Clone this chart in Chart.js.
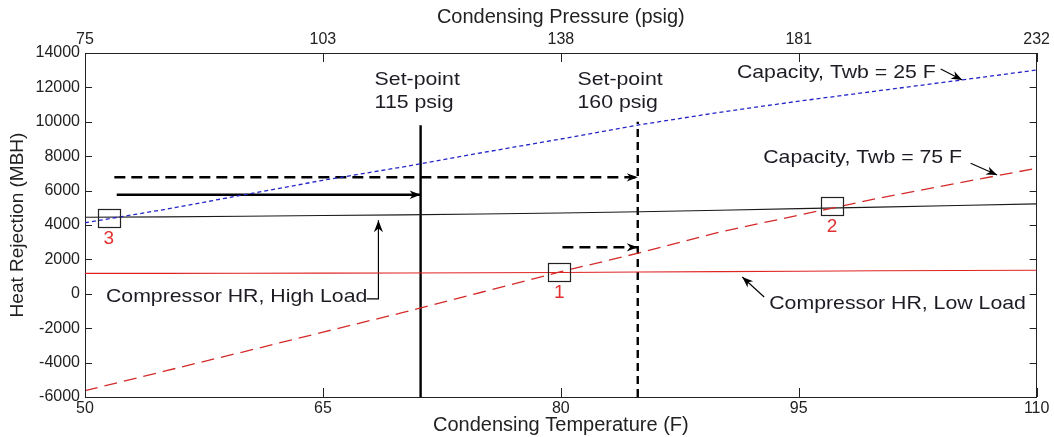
<!DOCTYPE html>
<html>
<head>
<meta charset="utf-8">
<title>Condenser heat rejection</title>
<script src="https://cdn.jsdelivr.net/npm/chart.js@4.4.1/dist/chart.umd.min.js"></script>
<style>
  body { margin: 0; background: #fff; }
  #wrap { width: 1054px; height: 437px; }
</style>
</head>
<body>
<div id="wrap"><canvas id="hrChart" width="1054" height="437"></canvas></div>
<script>
// condensing temperature (F) and the curves (MBH)
var temps      = [50, 55, 60, 65, 70, 75, 80, 85, 90, 95, 100, 105, 110];
var capTwb25   = [4130, 4900, 5750, 6600, 7370, 8200, 9000, 9830, 10550, 11200, 11800, 12400, 13010];
var capTwb75   = [-5630, -4500, -3370, -2230, -1100, 90, 1285, 2390, 3590, 4570, 5550, 6430, 7300];
var hrHighLoad = [4450, 4470, 4510, 4550, 4590, 4640, 4700, 4770, 4860, 4950, 5040, 5130, 5230];
var hrLowLoad  = [1190, 1190, 1195, 1200, 1205, 1220, 1240, 1265, 1290, 1315, 1340, 1355, 1370];

// axes
var tempTicks      = [50, 65, 80, 95, 110];
var pressureLabels = ['75', '103', '138', '181', '232'];

// set-point lines (temperature F) and where they stop at the top (MBH)
var setPointTemps = [71.16, 84.85];
var setPointTops  = [9800, 10000];

// operating points 1, 2, 3
var stateLabels = ['1', '2', '3'];
var stateTemps  = [79.9, 97.1, 51.5];
var stateHR     = [1270, 5100, 4410];

function pts(xs, ys) {
     return xs.map(function(x, i){ return {x: x, y: ys[i]}; });
}

var curveDefaults = {showLine: true, pointRadius: 0, tension: 0, fill: false};

function curve(label, data, color, width, dash) {
     return Object.assign({}, curveDefaults, {
          label: label, data: data, borderColor: color, borderWidth: width, borderDash: dash || []
     });
}

var datasets = [
     curve('Capacity, Twb = 25 F', pts(temps, capTwb25), '#2424c8', 1.3, [4, 3]),
     curve('Capacity, Twb = 75 F', pts(temps, capTwb75), '#d42a2a', 1.3, [13, 7]),
     curve('Compressor HR, High Load', pts(temps, hrHighLoad), '#1a1a1a', 1.1),
     curve('Compressor HR, Low Load', pts(temps, hrLowLoad), '#e02424', 1.1),
     curve('Set-point 115 psig', [{x: setPointTemps[0], y: -6000}, {x: setPointTemps[0], y: setPointTops[0]}], '#000', 2.4),
     curve('Set-point 160 psig', [{x: setPointTemps[1], y: -6000}, {x: setPointTemps[1], y: setPointTops[1]}], '#000', 2.4, [8, 5])
];

// arrows, in data coordinates; head drawn at the last point
var arrows = [
     {pts: [[51.85, 6770], [84.85, 6770]], w: 2.5, dash: [11, 6], head: 11},
     {pts: [[52.0, 5760], [71.16, 5760]], w: 2.5, head: 11},
     {pts: [[80.1, 2700], [84.85, 2700]], w: 2.5, dash: [11, 6], head: 11},
     {pts: [[67.76, -300], [68.5, -300], [68.5, 4280]], w: 1.2, head: 12},
     {pts: [[92.82, -186], [91.44, 977]], w: 1.1, head: 11},
     {pts: [[103.95, 13070], [105.31, 12430]], w: 1.1, head: 11},
     {pts: [[105.84, 7587], [107.51, 6907]], w: 1.1, head: 11}
];
arrows.forEach(function(a){
     datasets.push(Object.assign({}, curveDefaults, {
          label: '', data: a.pts.map(function(p){ return {x: p[0], y: p[1]}; }),
          borderColor: '#000', borderWidth: a.w, borderDash: a.dash || [], arrow: a.head
     }));
});

var notes = [
     {t: 'Set-point', x: 68.26, y: 12430},
     {t: '115 psig', x: 68.26, y: 11093},
     {t: 'Set-point', x: 81.05, y: 12430},
     {t: '160 psig', x: 81.05, y: 11093},
     {t: 'Capacity, Twb = 25 F', x: 91.1, y: 12855},
     {t: 'Capacity, Twb = 75 F', x: 92.76, y: 7895},
     {t: 'Compressor HR, Low Load', x: 93.14, y: -593},
     {t: 'Compressor HR, High Load', x: 51.32, y: -170}
];

var extras = {
     id: 'extras',
     afterDatasetsDraw: function(chart) {
          var ctx = chart.ctx, xs = chart.scales.x, ys = chart.scales.y, a = chart.chartArea;
          ctx.save();

          // arrow heads
          chart.data.datasets.forEach(function(ds){
               if (!ds.arrow) return;
               var n = ds.data.length;
               var p1 = ds.data[n - 2], p2 = ds.data[n - 1];
               var x1 = xs.getPixelForValue(p1.x), y1 = ys.getPixelForValue(p1.y);
               var x2 = xs.getPixelForValue(p2.x), y2 = ys.getPixelForValue(p2.y);
               var ang = Math.atan2(y2 - y1, x2 - x1), L = ds.arrow, W = ds.arrow * 0.38;
               ctx.fillStyle = '#000';
               ctx.beginPath();
               ctx.moveTo(x2, y2);
               ctx.lineTo(x2 - L * Math.cos(ang) + W * Math.sin(ang), y2 - L * Math.sin(ang) - W * Math.cos(ang));
               ctx.lineTo(x2 - L * 0.7 * Math.cos(ang), y2 - L * 0.7 * Math.sin(ang));
               ctx.lineTo(x2 - L * Math.cos(ang) - W * Math.sin(ang), y2 - L * Math.sin(ang) + W * Math.cos(ang));
               ctx.closePath();
               ctx.fill();
          });

          // state boxes and numbers
          ctx.lineWidth = 1.2;
          ctx.strokeStyle = '#222';
          ctx.font = '19px "Liberation Sans", Arial, sans-serif';
          ctx.textAlign = 'center';
          ctx.textBaseline = 'middle';
          stateTemps.forEach(function(t, i){
               var px = xs.getPixelForValue(t), py = ys.getPixelForValue(stateHR[i]);
               ctx.strokeRect(Math.round(px - 11) + 0.5, Math.round(py - 9) + 0.5, 22, 18);
               ctx.fillStyle = '#e03030';
               ctx.fillText(stateLabels[i], px, py + 21);
          });

          // text notes, slightly wide like the original
          ctx.fillStyle = '#1c1c24';
          ctx.textAlign = 'left';
          notes.forEach(function(n){
               ctx.save();
               ctx.translate(xs.getPixelForValue(n.x), ys.getPixelForValue(n.y));
               ctx.scale(1.12, 1);
               ctx.fillText(n.t, 0, 0);
               ctx.restore();
          });

          // inward tick marks all round the frame
          ctx.strokeStyle = '#222';
          ctx.lineWidth = 1;
          ctx.beginPath();
          ys.ticks.forEach(function(tk){
               var y = Math.round(ys.getPixelForValue(tk.value)) + 0.5;
               ctx.moveTo(a.left, y); ctx.lineTo(a.left + 7, y);
               ctx.moveTo(a.right, y); ctx.lineTo(a.right - 7, y);
          });
          tempTicks.forEach(function(t){
               var x = Math.round(xs.getPixelForValue(t)) + 0.5;
               ctx.moveTo(x, a.top); ctx.lineTo(x, a.top + 9);
               ctx.moveTo(x, a.bottom); ctx.lineTo(x, a.bottom - 9);
          });
          ctx.stroke();
          ctx.restore();
     }
};

var tickFont = {family: '"Liberation Sans", Arial, sans-serif', size: 16};
var titleFont = {family: '"Liberation Sans", Arial, sans-serif', size: 20};
var frame = {display: true, color: '#222', width: 1};
var noGrid = {display: false, drawTicks: false};

var config = {
     type: 'scatter',
     data: {datasets: datasets},
     options: {
          responsive: false,
          animation: false,
          layout: {padding: 0},
          plugins: {legend: {display: false}, tooltip: {enabled: false}},
          scales: {
               x: {
                    type: 'linear', position: 'bottom', min: 50, max: 110,
                    grid: noGrid, border: frame,
                    ticks: {stepSize: 15, color: '#222', font: tickFont, padding: 2, maxRotation: 0},
                    title: {display: true, text: 'Condensing Temperature (F)', color: '#222', font: titleFont, padding: {top: 0, bottom: 0}},
                    afterFit: function(s){ s.height = 40; }
               },
               x2: {
                    type: 'linear', position: 'top', min: 50, max: 110,
                    grid: noGrid, border: frame,
                    ticks: {
                         stepSize: 15, color: '#222', font: tickFont, padding: 4, maxRotation: 0,
                         callback: function(v){
                              var i = tempTicks.indexOf(v);
                              return i < 0 ? '' : pressureLabels[i];
                         }
                    },
                    title: {display: true, text: 'Condensing Pressure (psig)', color: '#222', font: titleFont, padding: {top: 5, bottom: 0}},
                    afterFit: function(s){ s.height = 53; }
               },
               y: {
                    type: 'linear', position: 'left', min: -6000, max: 14000,
                    grid: noGrid, border: frame,
                    ticks: {stepSize: 2000, color: '#222', font: tickFont, padding: 5,
                         callback: function(v){ return String(v); }},
                    title: {display: true, text: 'Heat Rejection (MBH)', color: '#222', font: {family: '"Liberation Sans", Arial, sans-serif', size: 19}, padding: {top: 6, bottom: 0}},
                    afterFit: function(s){ s.width = 85; }
               },
               y2: {
                    type: 'linear', position: 'right', min: -6000, max: 14000,
                    grid: noGrid, border: frame,
                    ticks: {display: false},
                    afterFit: function(s){ s.width = 16; }
               }
          }
     },
     plugins: [extras]
};

window.onload = function() {
     var ctx = document.getElementById('hrChart').getContext('2d');
     window.hrChart = new Chart(ctx, config);
};
</script>
</body>
</html>
